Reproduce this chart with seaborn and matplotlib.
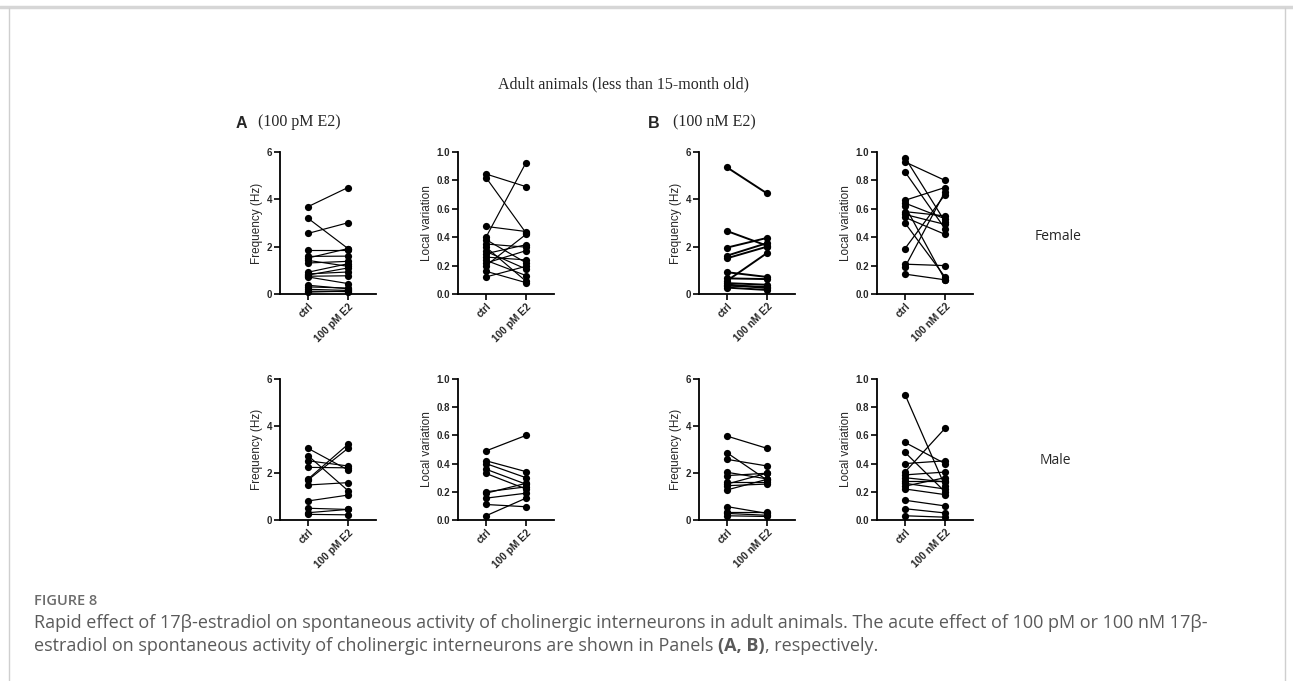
import numpy as np
import pandas as pd
import matplotlib
matplotlib.use("Agg")
import matplotlib.pyplot as plt
import seaborn as sns
from matplotlib.lines import Line2D

sns.set_theme(style="white")
plt.rcParams['font.family'] = ['Liberation Sans', 'DejaVu Sans']

# ---------------- data ----------------
conditions_A = ["ctrl", "100 pM E2"]
conditions_B = ["ctrl", "100 nM E2"]

# Panel A (100 pM E2) - female
freqA_f_ctrl = [3.69, 3.20, 2.56, 1.85, 1.59, 1.52, 1.42, 1.31, 0.92, 0.85, 0.80, 0.75, 0.72, 0.37, 0.30, 0.20, 0.12, 0.08]
freqA_f_e2   = [4.50, 1.92, 3.01, 1.85, 1.60, 1.92, 1.17, 1.38, 1.28, 0.93, 1.10, 0.77, 0.44, 0.22, 0.25, 0.15, 0.10, 0.12]
lvA_f_ctrl = [0.845, 0.82, 0.476, 0.40, 0.383, 0.352, 0.33, 0.30, 0.284, 0.26, 0.237, 0.218, 0.20, 0.16, 0.12]
lvA_f_e2   = [0.756, 0.43, 0.44, 0.925, 0.22, 0.33, 0.09, 0.176, 0.347, 0.24, 0.13, 0.305, 0.42, 0.08, 0.195]
# Panel A (100 pM E2) - male
freqA_m_ctrl = [3.05, 2.74, 2.52, 2.24, 1.74, 1.70, 1.49, 0.81, 0.50, 0.31, 0.24]
freqA_m_e2   = [2.13, 1.25, 2.30, 2.22, 3.22, 3.05, 1.59, 1.06, 0.45, 0.45, 0.22]
lvA_m_ctrl = [0.49, 0.42, 0.40, 0.36, 0.33, 0.20, 0.19, 0.155, 0.11, 0.03]
lvA_m_e2   = [0.60, 0.343, 0.30, 0.254, 0.22, 0.235, 0.26, 0.19, 0.094, 0.155]

# Panel B (100 nM E2) - female
freqB_f_ctrl = [5.35, 2.66, 1.96, 1.62, 1.51, 0.92, 0.66, 0.56, 0.46, 0.40, 0.35, 0.27]
freqB_f_e2   = [4.25, 2.04, 2.37, 2.15, 2.00, 0.72, 0.63, 1.73, 0.39, 0.25, 0.30, 0.17]
lvB_f_ctrl = [0.96, 0.93, 0.86, 0.66, 0.64, 0.62, 0.58, 0.56, 0.54, 0.50, 0.32, 0.21, 0.19, 0.14]
lvB_f_e2   = [0.51, 0.80, 0.46, 0.75, 0.53, 0.10, 0.55, 0.49, 0.42, 0.12, 0.70, 0.20, 0.72, 0.10]
# Panel B (100 nM E2) - male
freqB_m_ctrl = [3.57, 2.86, 2.58, 2.03, 1.89, 1.63, 1.53, 1.46, 1.28, 0.57, 0.35, 0.28, 0.18]
freqB_m_e2   = [3.05, 1.70, 2.30, 1.75, 1.99, 1.63, 1.99, 1.53, 1.73, 0.28, 0.35, 0.20, 0.15]
lvB_m_ctrl = [0.89, 0.55, 0.48, 0.40, 0.34, 0.32, 0.30, 0.28, 0.26, 0.24, 0.22, 0.14, 0.08, 0.03]
lvB_m_e2   = [0.24, 0.40, 0.20, 0.42, 0.65, 0.34, 0.27, 0.28, 0.22, 0.30, 0.18, 0.10, 0.05, 0.02]

freq_ticks = [0, 2, 4, 6]
lv_ticks = [0.0, 0.2, 0.4, 0.6, 0.8, 1.0]

title_text = "Adult animals (less than 15-month old)"
caption_head = "FIGURE 8"
caption_l1 = ("Rapid effect of 17\u03b2-estradiol on spontaneous activity of cholinergic interneurons in adult "
              "animals. The acute effect of 100 pM or 100 nM 17\u03b2-")
caption_l2a = "estradiol on spontaneous activity of cholinergic interneurons are shown in Panels "
caption_l2b = "(A, B)"
caption_l2c = ", respectively."

# ---------------- figure ----------------
W, H = 1293, 681
fig = plt.figure(figsize=(W / 100, H / 100), dpi=100, facecolor="white")


def px_rect(left, top, right, bottom):
    return [left / W, 1 - bottom / H, (right - left) / W, (bottom - top) / H]


def panel(rect, ctrl, e2, labels, ylim, yticks, ylabel, fmt, lw=0.9):
    ax = fig.add_axes(rect)
    n = len(ctrl)
    df = pd.DataFrame({
        "cell": list(range(n)) * 2,
        "x": [0] * n + [1] * n,
        "value": list(ctrl) + list(e2),
    })
    sns.lineplot(data=df, x="x", y="value", units="cell", estimator=None,
                 color="black", lw=lw, marker="o", markersize=5.2,
                 markeredgewidth=0, ax=ax, legend=False)
    for ln in ax.lines:
        ln.set_clip_on(False)
    ax.set_xlim(-0.7, 1.7)
    ax.set_ylim(*ylim)
    ax.set_yticks(yticks)
    ax.set_yticklabels([fmt.format(t) for t in yticks], fontsize=7, fontweight="bold")
    ax.set_xticks([0, 1])
    ax.set_xticklabels(labels, rotation=45, ha="right", rotation_mode="anchor",
                       fontsize=7.3, fontweight="bold")
    ax.set_xlabel("")
    ax.set_ylabel(ylabel, fontsize=8.5, labelpad=3)
    for s in ["top", "right"]:
        ax.spines[s].set_visible(False)
    for s in ["left", "bottom"]:
        ax.spines[s].set_color("black")
        ax.spines[s].set_linewidth(1.3)
    ax.tick_params(axis="both", direction="out", length=4, width=1.2, color="black",
                   left=True, bottom=True, pad=1.5)
    ax.set_facecolor("white")
    return ax


col_left = [280, 458, 699, 877]
col_w = 96
row_tb = [(152, 294), (379, 520)]

rows = [
    [(freqA_f_ctrl, freqA_f_e2), (lvA_f_ctrl, lvA_f_e2), (freqB_f_ctrl, freqB_f_e2), (lvB_f_ctrl, lvB_f_e2)],
    [(freqA_m_ctrl, freqA_m_e2), (lvA_m_ctrl, lvA_m_e2), (freqB_m_ctrl, freqB_m_e2), (lvB_m_ctrl, lvB_m_e2)],
]
line_w = [[0.85, 0.85, 1.4, 0.9], [0.85, 0.9, 0.9, 0.9]]
for r, (top, bot) in enumerate(row_tb):
    for c, left in enumerate(col_left):
        ctrl, e2 = rows[r][c]
        labels = conditions_A if c < 2 else conditions_B
        if c % 2 == 0:
            panel(px_rect(left, top, left + col_w, bot), ctrl, e2, labels,
                  (0, 6), freq_ticks, "Frequency (Hz)", "{:.0f}", line_w[r][c])
        else:
            panel(px_rect(left, top, left + col_w, bot), ctrl, e2, labels,
                  (0, 1.0), lv_ticks, "Local variation", "{:.1f}", line_w[r][c])

# overlay axes for text & frame
ov = fig.add_axes([0, 0, 1, 1], zorder=-1)
ov.set_xlim(0, W)
ov.set_ylim(H, 0)
ov.axis("off")

# frame
ov.add_line(Line2D([0, W], [7, 7], color="#d6d6d6", lw=2.5))
ov.add_line(Line2D([8.5, 8.5], [8, H], color="#cfcfcf", lw=1))
ov.add_line(Line2D([1285, 1285], [8, H], color="#cfcfcf", lw=1))

serif = ["Liberation Serif", "DejaVu Serif"]
ov.text(624, 84, title_text, ha="center", va="center", fontsize=11.5, family=serif)
ov.text(236, 123, "A", ha="left", va="center", fontsize=11.5, fontweight="bold")
ov.text(258, 122, "(100 pM E2)", ha="left", va="center", fontsize=11.5, family=serif)
ov.text(648, 123, "B", ha="left", va="center", fontsize=11.5, fontweight="bold")
ov.text(673, 122, "(100 nM E2)", ha="left", va="center", fontsize=11.5, family=serif)

side = ["Open Sans", "DejaVu Sans"]
ov.text(1035, 237, "Female", ha="left", va="center", fontsize=10, family=side)
ov.text(1040, 460, "Male", ha="left", va="center", fontsize=10, family=side)

cap = ["Open Sans", "DejaVu Sans"]
ov.text(34, 601, caption_head, ha="left", va="center", fontsize=10.5, family=cap,
        color="#6b6b6b", fontweight="semibold")
ov.text(34, 623, caption_l1, ha="left", va="center", fontsize=13, family=cap, color="#5a5a5a")
t1 = ov.text(34, 646, caption_l2a, ha="left", va="center", fontsize=13, family=cap, color="#5a5a5a")
t2 = ov.annotate(caption_l2b, xy=(1, 0), xycoords=t1, ha="left", va="bottom",
                 fontsize=13, family=cap, color="#5a5a5a", fontweight="bold")
ov.annotate(caption_l2c, xy=(1, 0), xycoords=t2, ha="left", va="bottom",
            fontsize=13, family=cap, color="#5a5a5a")

fig.savefig("out.png", dpi=100, facecolor="white")
